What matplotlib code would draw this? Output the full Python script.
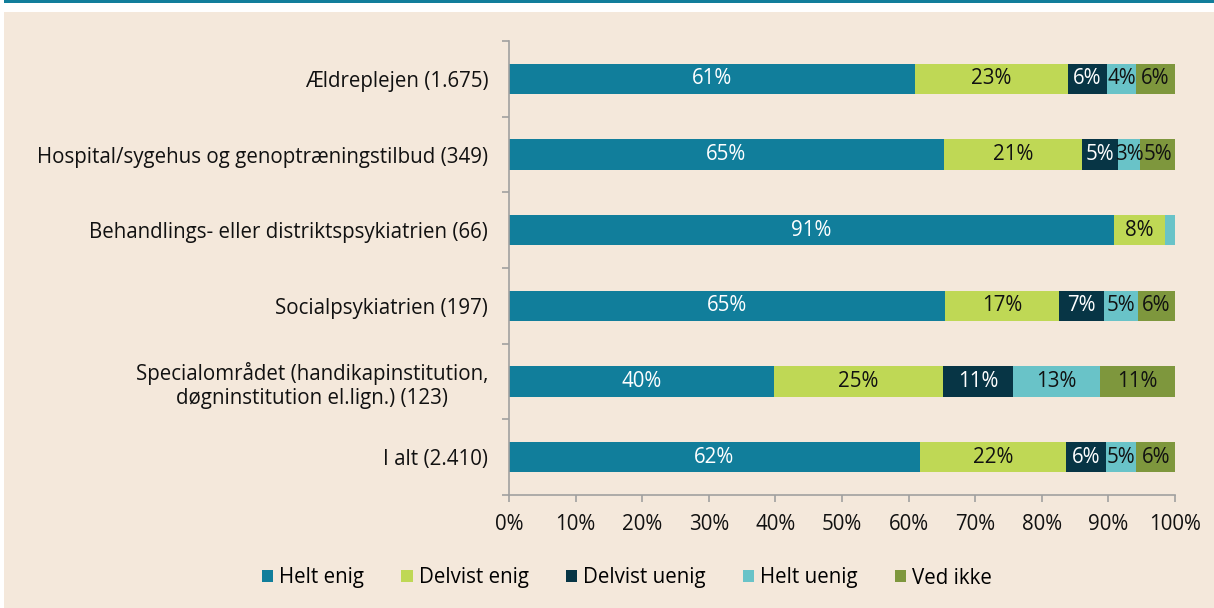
import matplotlib
matplotlib.use("Agg")
import matplotlib.pyplot as plt
from matplotlib.patches import Rectangle, Patch
import numpy as np

plt.rcParams['font.family'] = ['Open Sans', 'DejaVu Sans']

categories = [
    "Ældreplejen (1.675)",
    "Hospital/sygehus og genoptræningstilbud (349)",
    "Behandlings- eller distriktspsykiatrien (66)",
    "Socialpsykiatrien (197)",
    "Specialområdet (handikapinstitution,\ndøgninstitution el.lign.) (123)",
    "I alt (2.410)",
]
series_names = ["Helt enig", "Delvist enig", "Delvist uenig", "Helt uenig", "Ved ikke"]
helt_enig     = [61.0, 65.3, 90.8, 65.4, 39.8, 61.7]
delvist_enig  = [22.9, 20.7, 7.7, 17.2, 25.3, 21.9]
delvist_uenig = [5.9, 5.4, 0.0, 6.7, 10.6, 6.0]
helt_uenig    = [4.3, 3.4, 1.5, 5.1, 13.0, 4.6]
ved_ikke      = [5.9, 5.2, 0.0, 5.6, 11.3, 5.8]
series = [helt_enig, delvist_enig, delvist_uenig, helt_uenig, ved_ikke]
colors = ["#117E9B", "#BFD855", "#073545", "#69C3C8", "#7E973D"]
text_colors = ["white", "#111111", "white", "#111111", "#111111"]
xticks = list(range(0, 101, 10))

FS = 14.8
W, H = 1214, 608
fig = plt.figure(figsize=(W / 100, H / 100), dpi=100, facecolor="white")
fig.patches.append(Rectangle((4 / W, 0), 1 - 4 / W, 1 - 12 / H, transform=fig.transFigure,
                             facecolor="#F4E8DB", edgecolor="none", zorder=-10))
fig.patches.append(Rectangle((4 / W, 1 - 3 / H), 1 - 4 / W, 3 / H, transform=fig.transFigure,
                             facecolor="#117E9B", edgecolor="none", zorder=-9))

ax = fig.add_axes([509 / W, 1 - 495 / H, (1175 - 509) / W, (495 - 41) / H])
ax.set_facecolor("none")

y = np.arange(len(categories))
left = np.zeros(len(categories))
for vals, c, tc in zip(series, colors, text_colors):
    vals = np.array(vals)
    ax.barh(y, vals, left=left, height=0.4, color=c, edgecolor="none")
    for yi, l, v in zip(y, left, vals):
        if v >= 2.5:
            ax.text(l + v / 2, yi, f"{round(v):.0f}%", ha="center", va="center",
                    color=tc, fontsize=FS)
    left = left + vals

ax.set_xlim(0, 100)
ax.set_ylim(len(categories) - 0.5, -0.5)
ax.set_xticks(xticks)
ax.set_xticklabels([f"{t}%" for t in xticks], fontsize=FS, color="#111111")
ax.set_yticks(y)
ax.set_yticklabels(categories, fontsize=FS, color="#111111")
for lab in ax.get_yticklabels():
    lab.set_multialignment("center")
ax.set_yticks(np.arange(-0.5, len(categories) + 0.5, 1), minor=True)
ax.tick_params(axis="y", which="major", length=0, pad=15)
ax.tick_params(axis="y", which="minor", length=5, width=1.2, color="#A0A0A0", direction="out")
ax.tick_params(axis="x", which="major", length=5, width=1.2, color="#A0A0A0", direction="out", pad=9)
for s in ["top", "right"]:
    ax.spines[s].set_visible(False)
for s in ["left", "bottom"]:
    ax.spines[s].set_color("#A0A0A0")
    ax.spines[s].set_linewidth(1.2)

handles = [Patch(facecolor=c, edgecolor="none") for c in colors]
fig.legend(handles, series_names, loc="center", bbox_to_anchor=(627 / W, 1 - 578 / H),
           ncol=5, frameon=False, fontsize=FS, handlelength=0.55, handleheight=0.55,
           handletextpad=0.3, columnspacing=1.8)

fig.savefig("out.png", dpi=100, facecolor="white")
